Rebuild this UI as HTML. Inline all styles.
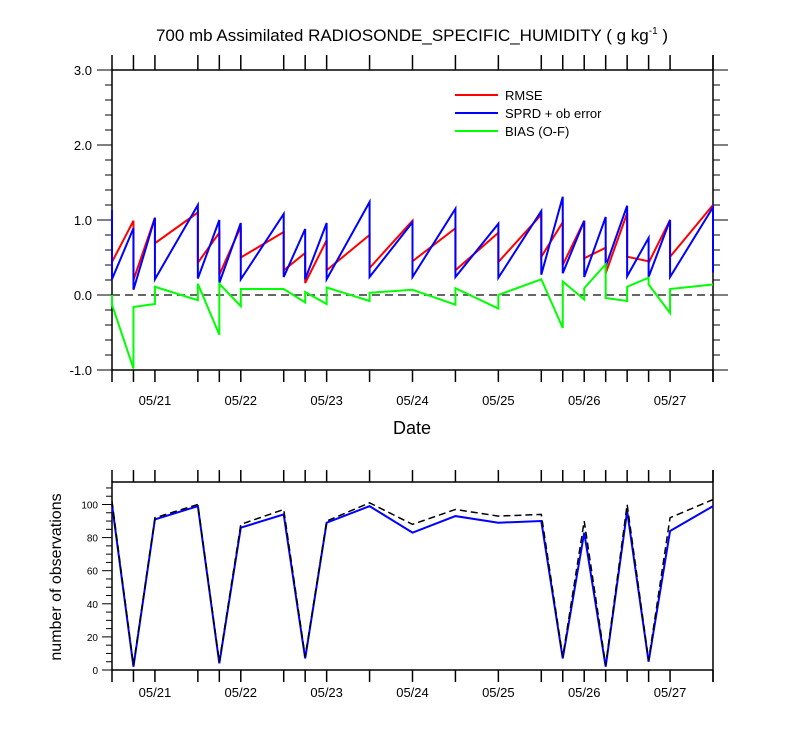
<!DOCTYPE html>
<html><head><meta charset="utf-8">
<style>
body{margin:0;background:#fff;}
svg{display:block;font-family:"Liberation Sans",sans-serif;}
</style></head>
<body>
<svg id="chart" width="800" height="750" viewBox="0 0 800 750">
<text x="412" y="41" text-anchor="middle" font-size="17">700 mb Assimilated RADIOSONDE_SPECIFIC_HUMIDITY ( g kg<tspan font-size="10" dy="-7">-1</tspan><tspan dy="7"> )</tspan></text>
<g id="topg"></g>
<g id="botg"></g>
</svg>
<script>
// data: time index in 6-hour steps from 05/20 12Z
const times = [0,1,2,4,5,6,8,9,10,12,14,16,18,20,21,22,23,24,25,26,28];
const rmseIn  = [0.85,0.99,1.03,1.10,0.83,0.91,0.84,0.56,0.73,0.80,0.99,0.89,0.83,1.07,0.97,0.99,0.63,1.09,0.45,1.00,1.20];
const rmseOut = [0.44,0.20,0.69,0.43,0.27,0.50,0.33,0.16,0.33,0.36,0.45,0.33,0.44,0.51,0.40,0.49,0.29,0.51,0.43,0.51,1.20];
const sprdIn  = [1.13,0.89,1.03,1.20,1.00,0.96,1.08,0.88,0.96,1.24,0.97,1.15,0.95,1.12,1.31,0.99,1.04,1.19,0.76,1.00,1.17];
const sprdOut = [0.21,0.07,0.21,0.22,0.16,0.21,0.24,0.21,0.21,0.24,0.24,0.24,0.23,0.27,0.29,0.24,0.38,0.25,0.24,0.24,0.30];
const biasIn  = [0.00,-0.98,-0.12,-0.07,-0.53,-0.15,0.08,-0.10,-0.12,-0.08,0.07,-0.13,-0.18,0.21,-0.44,-0.06,0.41,-0.08,0.23,-0.24,0.14];
const biasOut = [-0.13,-0.16,0.11,0.15,0.15,0.08,0.08,0.04,0.10,0.03,0.07,0.09,0.00,0.21,0.18,0.09,-0.04,0.11,0.14,0.08,0.14];
const obsUsed = [100,2,91,99,4,86,94,7,89,99,83,93,89,90,7,83,2,96,5,84,99];
const obsPoss = [102,3,92,100,5,88,97,8,90,101,88,97,93,94,8,90,3,100,6,92,103];
const dateLabels = ["05/21","05/22","05/23","05/24","05/25","05/26","05/27"];
const dateIdx = [2,6,10,14,18,22,26];
const yTopTicks = [3,2,1,0,-1];
const yBotTicks = [0,20,40,60,80,100];

const NS="http://www.w3.org/2000/svg";
const X0=112,X1=713;
const xs=t=>X0+(X1-X0)*t/28;
const yT=v=>295-75*v;
const yB=v=>670-1.655*v;
function mk(p,tag,a){const e=document.createElementNS(NS,tag);for(const k in a)e.setAttribute(k,a[k]);p.appendChild(e);return e;}
const topG=document.getElementById('topg'),botG=document.getElementById('botg');

function stair(arrIn,arrOut,yf){let d="";for(let i=0;i<times.length;i++){d+=(i?"L":"M")+xs(times[i])+","+yf(arrIn[i])+"L"+xs(times[i])+","+yf(arrOut[i]);}return d;}

// top frame
let f=mk(topG,'rect',{x:X0,y:70,width:X1-X0,height:300,fill:'none',stroke:'#000','stroke-width':1.5});


for(let v=-1;v<=3.0001;v+=0.2){const maj=Math.abs(v-Math.round(v))<1e-6;const L=maj?15:7;
 mk(topG,'line',{x1:X0-L,x2:X0,y1:yT(v),y2:yT(v),stroke:'#000','stroke-width':1});
 mk(topG,'line',{x1:X1,x2:X1+L,y1:yT(v),y2:yT(v),stroke:'#000','stroke-width':1});}
yTopTicks.forEach(v=>{const t=mk(topG,'text',{x:X0-20,y:yT(v)+5,'text-anchor':'end','font-size':13});t.textContent=v.toFixed(1);
 
 });
times.concat([28]).forEach(t=>{mk(topG,'line',{x1:xs(t),x2:xs(t),y1:55,y2:70,stroke:'#000','stroke-width':1.5});
 mk(topG,'line',{x1:xs(t),x2:xs(t),y1:370,y2:382,stroke:'#000','stroke-width':1.5});});
dateIdx.forEach((t,i)=>{const e=mk(topG,'text',{x:xs(t),y:405,'text-anchor':'middle','font-size':13});e.textContent=dateLabels[i];
 
 });
let zl=mk(topG,'line',{x1:X0,x2:X1,y1:yT(0),y2:yT(0),stroke:'#333','stroke-width':1.5,'stroke-dasharray':'8,5'});


let p1=mk(topG,'path',{d:stair(rmseIn,rmseOut,yT),fill:'none',stroke:'#f00','stroke-width':2});


let p2=mk(topG,'path',{d:stair(sprdIn,sprdOut,yT),fill:'none',stroke:'#00f','stroke-width':2});


let p3=mk(topG,'path',{d:stair(biasIn,biasOut,yT),fill:'none',stroke:'#0f0','stroke-width':2});


const leg=[["RMSE","#f00"],["SPRD + ob error","#00f"],["BIAS (O-F)","#0f0"]];
leg.forEach((l,i)=>{const y=95+i*18;
 const g=mk(topG,'g',{});
 
 
 mk(g,'line',{x1:455,x2:498,y1:y,y2:y,stroke:l[1],'stroke-width':2});
 const t=mk(g,'text',{x:505,y:y+5,'font-size':13});t.textContent=l[0];});
let xt=mk(topG,'text',{x:412,y:434,'text-anchor':'middle','font-size':18});xt.textContent="Date";



// bottom frame
let f2=mk(botG,'rect',{x:X0,y:482,width:X1-X0,height:188,fill:'none',stroke:'#000','stroke-width':1.5});


for(let v=0;v<=110;v+=5){const maj=v%20==0;const L=maj?10:6;
 mk(botG,'line',{x1:X0-L,x2:X0,y1:yB(v),y2:yB(v),stroke:'#000','stroke-width':1});}
yBotTicks.forEach(v=>{const t=mk(botG,'text',{x:X0-14,y:yB(v)+4,'text-anchor':'end','font-size':10});t.textContent=v;
 
 });
times.concat([28]).forEach(t=>{mk(botG,'line',{x1:xs(t),x2:xs(t),y1:470,y2:482,stroke:'#000','stroke-width':1.5});
 mk(botG,'line',{x1:xs(t),x2:xs(t),y1:670,y2:682,stroke:'#000','stroke-width':1.5});});
dateIdx.forEach((t,i)=>{const e=mk(botG,'text',{x:xs(t),y:697,'text-anchor':'middle','font-size':13});e.textContent=dateLabels[i];
 
 });
const lineD=a=>a.map((v,i)=>(i?"L":"M")+xs(times[i])+","+yB(v)).join("");
let b1=mk(botG,'path',{d:lineD(obsUsed),fill:'none',stroke:'#00f','stroke-width':2});


let b2=mk(botG,'path',{d:lineD(obsPoss),fill:'none',stroke:'#000','stroke-width':1.5,'stroke-dasharray':'7,4'});


let yl=mk(botG,'text',{x:0,y:0,'text-anchor':'middle','font-size':16,transform:'translate(61,577) rotate(-90)'});
yl.textContent="number of observations";


</script>
</body></html>
